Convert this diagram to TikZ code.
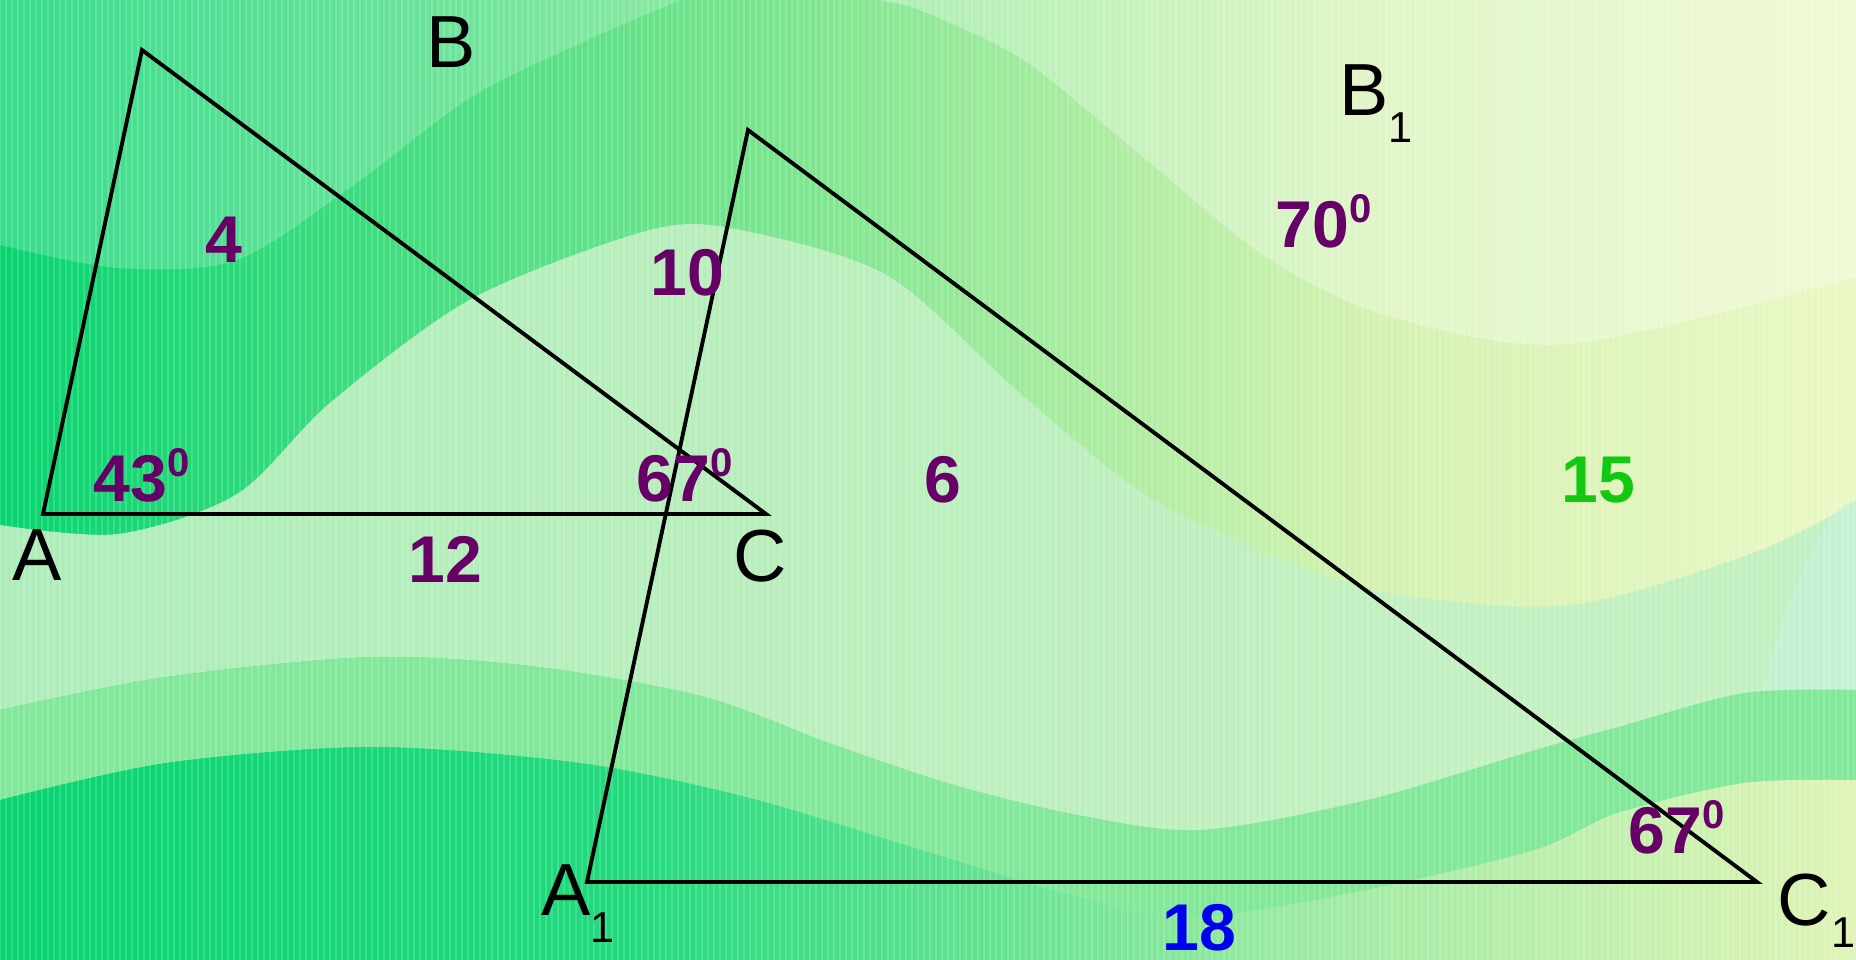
\documentclass[tikz,border=0pt]{standalone}
\usepackage{fontspec}
\setmainfont{Liberation Sans}
\usetikzlibrary{positioning}
\usepackage{xcolor}

\definecolor{plum}{HTML}{660066}
\definecolor{grn}{HTML}{12C812}
\definecolor{blu}{HTML}{0000F0}
\definecolor{pale}{HTML}{C0F0C2}
\definecolor{band}{HTML}{80E898}
\definecolor{teal}{HTML}{C4F2D6}
\definecolor{c0}{HTML}{06D470}
\definecolor{c1}{HTML}{80E690}
\definecolor{c2}{HTML}{D4F2B0}
\definecolor{c3}{HTML}{EAF8C4}
\definecolor{d1}{HTML}{22DA7E}
\definecolor{d2}{HTML}{9CEAA2}
\definecolor{d3}{HTML}{E0F4B6}

\pgfdeclarehorizontalshading{topwave}{100bp}{color(0bp)=(c0); color(25bp)=(c0);
  color(47bp)=(c1); color(62bp)=(c2); color(75bp)=(c3); color(100bp)=(c3)}
\pgfdeclarehorizontalshading{lowwave}{100bp}{color(0bp)=(c0); color(25bp)=(c0);
  color(42bp)=(d1); color(60bp)=(d2); color(75bp)=(d3); color(100bp)=(d3)}

\newcommand{\dg}{\raisebox{0.245cm}{\fontsize{11.4}{12}\selectfont\bfseries 0}}
\newcommand{\low}[1]{\raisebox{-0.27cm}{\fontsize{12.3}{13}\selectfont #1}}

\begin{document}
\begin{tikzpicture}[
  x=0.01cm, y=-0.01cm,
  lbl/.style={font=\fontsize{21}{24}\selectfont, inner sep=0pt, anchor=base west},
  num/.style={font=\fontsize{18.8}{22}\selectfont\bfseries, text=plum, inner sep=0pt, anchor=base west},
  side/.style={line width=1.1pt, line join=miter}
]
\useasboundingbox (0,0) rectangle (1856,960);
% background
\shade[shading=topwave] (0,0) rectangle (1856,960);
\fill[white, opacity=0.2] (0,0) -- plot[smooth] coordinates {(0,245) (118,268) (237,260) (355,184) (473,96) (592,38) (680,0)} -- cycle;
\fill[white, opacity=0.3] (880,0) -- plot[smooth] coordinates {(910,6) (1022,59) (1144,158) (1266,257) (1388,316) (1570,344) (1856,277)} -- (1856,0) -- cycle;
\fill[pale, opacity=0.9] plot[smooth] coordinates {(0,525) (118,534) (237,494) (331,402) (473,298) (650,230) (740,230) (888,276) (1022,395) (1144,494) (1266,553) (1388,593) (1570,605) (1753,553) (1856,502)}
  -- (1856,700) -- plot[smooth] coordinates {(1744,693) (1618,727) (1535,750) (1367,800) (1200,830) (1078,815) (954,785) (829,743) (705,697) (539,667) (373,657) (166,677) (0,710)} -- cycle;
\fill[teal, opacity=0.8] plot[smooth] coordinates {(1760,700) (1790,600) (1830,520) (1856,500)} -- (1856,700) -- cycle;
\fill[band] plot[smooth] coordinates {(0,710) (166,677) (373,657) (539,667) (705,697) (829,743) (954,785) (1078,815) (1200,830) (1367,800) (1535,750) (1618,727) (1744,693) (1856,690)}
  -- (1856,780) -- plot[smooth] coordinates {(1744,783) (1618,813) (1535,850) (1367,890) (1200,917) (1078,897) (912,847) (746,797) (580,763) (373,747) (166,763) (0,800)} -- cycle;
\shade[shading=lowwave] plot[smooth] coordinates {(0,800) (166,763) (373,747) (580,763) (746,797) (912,847) (1078,897) (1200,917) (1367,890) (1535,850) (1618,813) (1744,783) (1856,780)}
  -- (1856,960) -- (0,960) -- cycle;
\foreach \i in {0,6,...,1854}
  \draw[white, opacity=0.16, line width=0.55pt] (\i,0) -- (\i,960);

% triangles
\coordinate (A) at (43,514);
\coordinate (B) at (142,50);
\coordinate (C) at (766,514);
\coordinate (A1) at (587,882);
\coordinate (B1) at (748,130);
\coordinate (C1) at (1757,882);
\draw[side] (A) -- (B) -- (C) -- cycle;
\draw[side] (A1) -- (B1) -- (C1) -- cycle;

% vertex names
\node[lbl] (lA) at (12,580) {A};
\node[lbl] (lB) at (426,67) {B};
\node[lbl] (lC) at (733,581) {C};
\node[lbl] (lA1) at (541,915) {A\low{1}};
\node[lbl] (lB1) at (1339,115) {B\low{1}};
\node[lbl] (lC1) at (1777,925) {C\raisebox{-0.22cm}{\fontsize{12.3}{13}\selectfont 1}};

% sides and angles
\node[num] (s4) at (205,262) {4};
\node[num] (s12) at (408,582) {12};
\node[num] (s10) at (650,295) {10};
\node[num] (s6) at (924,502) {6};
\node[num, text=grn] (s15) at (1561,502) {15};
\node[num, text=blu] (s18) at (1162,950) {18};
\node[num] (aA) at (93,501) {43\dg};
\node[num] (aC) at (636,501) {67\dg};
\node[num] (aB1) at (1275,247) {70\dg};
\node[num] (aC1) at (1628,853) {67\dg};
\end{tikzpicture}
\end{document}
